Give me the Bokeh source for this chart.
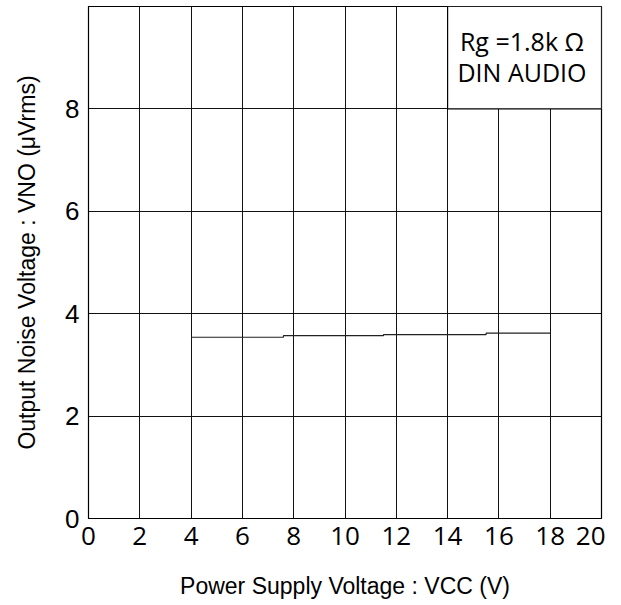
from bokeh.plotting import figure
from bokeh.models import FixedTicker, Range1d
from bokeh.core.properties import value
from bokeh.embed import file_html
from bokeh.resources import INLINE

# Data
vcc = [4, 7.6, 11.5, 15.5, 18]
vno = [3.54, 3.57, 3.59, 3.62, 3.62]

x_ticks = [0, 2, 4, 6, 8, 10, 12, 14, 16, 18, 20]
y_ticks = [0, 2, 4, 6, 8]
grid_y = [0, 2, 4, 6, 8, 10]

box_left, box_right, box_bottom, box_top = [14], [20], [8], [10]
note_x = [16.9, 16.9]
note_y = [9.32, 8.72]
note_text = ["Rg =1.8k \u03a9", "DIN AUDIO"]

p = figure(width=605, height=603, output_backend="svg", toolbar_location=None,
           x_range=Range1d(0, 20), y_range=Range1d(0, 10),
           min_border_left=88, min_border_right=4, min_border_top=6, min_border_bottom=85)

p.outline_line_color = "black"
p.outline_line_width = 1.2

p.xaxis.ticker = FixedTicker(ticks=x_ticks)
p.yaxis.ticker = FixedTicker(ticks=y_ticks)
p.xgrid.ticker = FixedTicker(ticks=x_ticks)
p.ygrid.ticker = FixedTicker(ticks=grid_y)
for g in (p.xgrid, p.ygrid):
    g.grid_line_color = "#111111"
    g.grid_line_width = 1
    g.grid_line_alpha = 1

for ax in (p.xaxis, p.yaxis):
    ax.major_tick_out = 0
    ax.major_tick_in = 0
    ax.minor_tick_out = 0
    ax.minor_tick_in = 0
    ax.axis_line_color = "black"
    ax.major_label_text_color = "black"
    ax.axis_label_text_color = "black"
    ax.axis_label_text_font_style = "normal"
    ax.axis_label_text_font = "Liberation Sans"
    ax.axis_label_text_font_size = "23px"

p.xaxis.major_label_text_font = "Open Sans"
p.xaxis.major_label_text_font_size = "26px"
p.xaxis.major_label_standoff = 8
p.xaxis.axis_label = "Power Supply Voltage : VCC (V)"
p.xaxis.axis_label_standoff = 25

p.yaxis.major_label_text_font = "Liberation Sans"
p.yaxis.major_label_text_font_size = "26px"
p.yaxis.major_label_standoff = 9
p.yaxis.axis_label = "Output Noise Voltage : VNO (\u03bcVrms)"
p.yaxis.axis_label_standoff = 22

# annotation box (covers grid lines)
p.quad(left=box_left, right=box_right, bottom=box_bottom, top=box_top,
       fill_color="white", line_color="black", line_width=1.2)
p.text(x=note_x, y=note_y, text=note_text, text_align="center", text_baseline="middle",
       text_font=value("Open Sans"), text_font_size="25px", text_color="black")

# data
p.step(vcc, vno, mode="after", line_color="#222222", line_width=1.2)

open("out.html", "w").write(file_html(p, INLINE))
